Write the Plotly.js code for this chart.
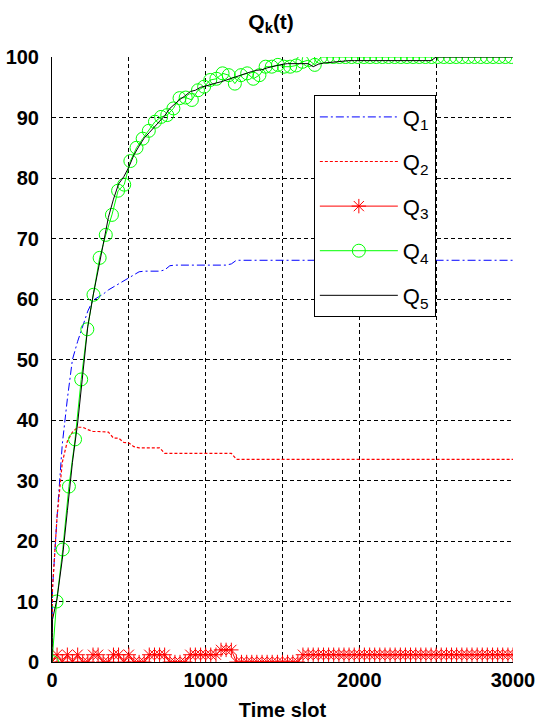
<!DOCTYPE html>
<html>
<head>
<meta charset="utf-8">
<script src="https://cdn.plot.ly/plotly-3.0.1.min.js"></script>
<style>html,body{margin:0;padding:0;background:#fff;}#chart{width:539px;height:724px;}</style>
</head>
<body>
<div id="chart"></div>
<script>
// Time slots shared by Q1, Q2, Q5
var T = [0,3,33,67,100,133,167,200,233,267,300,333,367,400,433,467,500,533,567,600,633,667,700,733,767,800,833,867,900,933,967,1000,1033,1067,1100,1133,1167,1200,1233,1267,1300,1333,1367,1400,1433,1467,1500,1533,1567,1600,1633,1667,1700,1733,1767,1800,1833,1867,1900,1933,1967,2000,2033,2067,2100,2133,2167,2200,2233,2267,2300,2333,2367,2400,2433,2467,2500,2533,2567,2600,2633,2667,2700,2733,2767,2800,2833,2867,2900,2933,2967,3000];
// Time slots for Q3 markers
var T3 = [0,33,67,100,133,167,200,233,267,300,333,367,400,433,467,500,533,567,600,633,667,700,733,767,800,833,867,900,933,967,1000,1033,1067,1100,1133,1167,1200,1233,1267,1300,1333,1367,1400,1433,1467,1500,1533,1567,1600,1633,1667,1700,1733,1767,1800,1833,1867,1900,1933,1967,2000,2033,2067,2100,2133,2167,2200,2233,2267,2300,2333,2367,2400,2433,2467,2500,2533,2567,2600,2633,2667,2700,2733,2767,2800,2833,2867,2900,2933,2967,3000];
// Time slots for Q4 markers
var T4 = [0,30,70,110,150,190,230,270,310,350,390,430,470,510,550,590,630,670,710,750,790,830,870,910,950,990,1030,1070,1110,1150,1190,1230,1270,1310,1350,1390,1430,1470,1510,1550,1590,1630,1670,1710,1750,1790,1830,1870,1910,1950,1990,2030,2070,2110,2150,2190,2230,2270,2310,2350,2390,2430,2470,2510,2550,2590,2630,2670,2710,2750,2790,2830,2870,2910,2950,2990];

var Q1 = [0,12,24,36,43.5,50,53,55.5,58,59.8,60.3,60.8,61.5,62,62.4,63,63.5,64,64.5,64.6,64.6,64.6,64.6,64.8,65.5,
  65.6,65.6,65.6,65.6,65.6,65.6,65.6,65.6,65.6,65.6,65.6,65.8,
  66.4,66.4,66.4,66.4,66.4,66.4,66.4,66.4,66.4,66.4,66.4,
  66.4,66.4,66.4,66.4,66.4,66.4,66.4,66.4,66.4,66.4,66.4,
  66.4,66.4,66.4,66.4,66.4,66.4,66.4,66.4,66.4,66.4,66.4,
  66.4,66.4,66.4,66.4,66.4,66.4,66.4,66.4,66.4,66.4,66.4,
  66.4,66.4,66.4,66.4,66.4,66.4,66.4,66.4,66.4,66.4,66.4];
var Q2 = [0,12,24,33,36.5,38,38.8,38.8,38.4,38.1,38.1,38.1,38,37,37,36.3,36.2,35.6,35.4,35.4,35.4,35.4,35.4,34.5,
  34.5,34.5,34.5,34.5,34.5,34.5,34.5,34.5,34.5,34.5,34.5,34.5,34.5,
  33.5,33.5,33.5,33.5,33.5,33.5,33.5,33.5,33.5,33.5,33.5,
  33.5,33.5,33.5,33.5,33.5,33.5,33.5,33.5,33.5,33.5,33.5,
  33.5,33.5,33.5,33.5,33.5,33.5,33.5,33.5,33.5,33.5,33.5,
  33.5,33.5,33.5,33.5,33.5,33.5,33.5,33.5,33.5,33.5,33.5,
  33.5,33.5,33.5,33.5,33.5,33.5,33.5,33.5,33.5,33.5,33.5];
var Q3 = [0,1.2,0,1.2,0,1.2,0,0,1.2,1.2,0,0,1.2,1.2,0,1.2,0,0,0,1.2,1.2,1.2,1.2,0,0,0,0,1.2,1.2,1.2,
  1.2,1.2,1.2,2,2,2,0,
  0,0,0,0,0,0,0,0,0,0,0,0,
  1.2,1.2,1.2,1.2,1.2,1.2,1.2,1.2,1.2,1.2,1.2,1.2,1.2,1.2,
  1.2,1.2,1.2,1.2,1.2,1.2,1.2,1.2,1.2,1.2,1.2,1.2,1.2,1.2,
  1.2,1.2,1.2,1.2,1.2,1.2,1.2,1.2,1.2,1.2,1.2,1.2,1.2,1.2];
var Q4 = [0,10,18.6,29,36.8,46.7,55,60.7,66.8,70.6,73.9,77.9,78.9,82.8,85,86.5,87.8,89.3,90.1,90.4,91.5,93.2,93.3,92.9,94.5,95.1,96.2,96.4,97.3,97,95.6,97,97.3,96.4,97,98.4,98.4,98.7,98.4,98.4,98.6,99.2,99.5,98.7,100,
  100,100,100,100,100,100,100,100,100,100,100,100,100,100,100,100,
  100,100,100,100,100,100,100,100,100,100,100,100,100,100,100];
var Q5 = [0,7,10.5,17,25,33,39.5,47,55.5,60.5,64.5,69,73.5,76.5,79,80.2,81.8,83.8,85.3,86.6,87.5,88.5,89.5,90.3,91.5,92.3,93,93.6,94.3,94.5,95,95.2,95.5,95.7,95.9,96.2,96.5,96.8,97,97.4,97.6,97.8,97.9,98.2,98.4,98.7,98.8,98.9,98.9,99,99,98.9,98.4,98.8,99,99.1,99.2,99.3,99.4,
  99.4,99.4,99.4,99.4,99.4,99.4,99.4,99.4,99.4,99.4,99.4,99.4,99.4,99.4,99.4,99.4,99.4,
  100,100,100,100,100,100,100,100,100,100,100,100,100,100,100,100];
var names = ['Q<sub>1</sub>','Q<sub>2</sub>','Q<sub>3</sub>','Q<sub>4</sub>','Q<sub>5</sub>'];

var traces = [
  {x:T, y:Q1, name:names[0], mode:'lines', line:{color:'#0000ff', width:1, dash:'8px,3px,2px,3px'}, legendgroup:'a'},
  {x:T, y:Q2, name:names[1], mode:'lines', line:{color:'#ff0000', width:1.2, dash:'3px,2px'}, legendgroup:'b'},
  {x:T3, y:Q3, name:names[2], mode:'lines+markers', line:{color:'#ff0000', width:1}, marker:{symbol:'asterisk-open', size:12, color:'#ff0000', line:{color:'#ff0000', width:1}}, legendgroup:'c'},
  {x:T4, y:Q4, name:names[3], mode:'lines+markers', line:{color:'#00ff00', width:1}, marker:{symbol:'circle-open', size:13, color:'#00ff00', line:{color:'#00ff00', width:1}}, legendgroup:'d'},
  {x:T, y:Q5, name:names[4], mode:'lines', line:{color:'#000000', width:1}, legendgroup:'e'}
];

var gridStyle = {gridcolor:'#000000', griddash:'4px,3px', gridwidth:1};
var layout = {
  width:539, height:724,
  margin:{l:52, r:26, t:57, b:62, pad:0},
  paper_bgcolor:'#ffffff', plot_bgcolor:'#ffffff',
  font:{family:'"Liberation Sans", Arial, sans-serif', color:'#000000', size:20},
  title:{text:'Q<sub>k</sub>(t)', font:{size:21, weight:'bold', color:'#000'}, x:0.503, xref:'container', xanchor:'center', y:0.97, yref:'container', yanchor:'middle'},
  xaxis:Object.assign({range:[0,3000], tick0:0, dtick:1000, showgrid:true, showline:true, linecolor:'#000', linewidth:1, zeroline:false, ticks:'', tickfont:{size:20, weight:'bold'},
    minor:{dtick:500, showgrid:true, gridcolor:'#000000', griddash:'4px,3px', gridwidth:1},
    title:{text:'Time slot', font:{size:20, weight:'bold'}, standoff:12}}, gridStyle),
  yaxis:Object.assign({range:[0,100], tick0:0, dtick:10, showgrid:true, showline:true, linecolor:'#000', linewidth:1, zeroline:false, ticks:'', ticklabelstandoff:8, tickfont:{size:20, weight:'bold'}}, gridStyle),
  showlegend:true,
  legend:{x:0.568, y:0.937, xanchor:'left', yanchor:'top', bgcolor:'#ffffff', bordercolor:'#000000', borderwidth:1, font:{size:22, color:'#000'}, itemwidth:78, traceorder:'grouped', tracegroupgap:13, entrywidth:125, entrywidthmode:'pixels'}
};
Plotly.newPlot('chart', traces, layout, {displayModeBar:false, staticPlot:true});
</script>
</body>
</html>
